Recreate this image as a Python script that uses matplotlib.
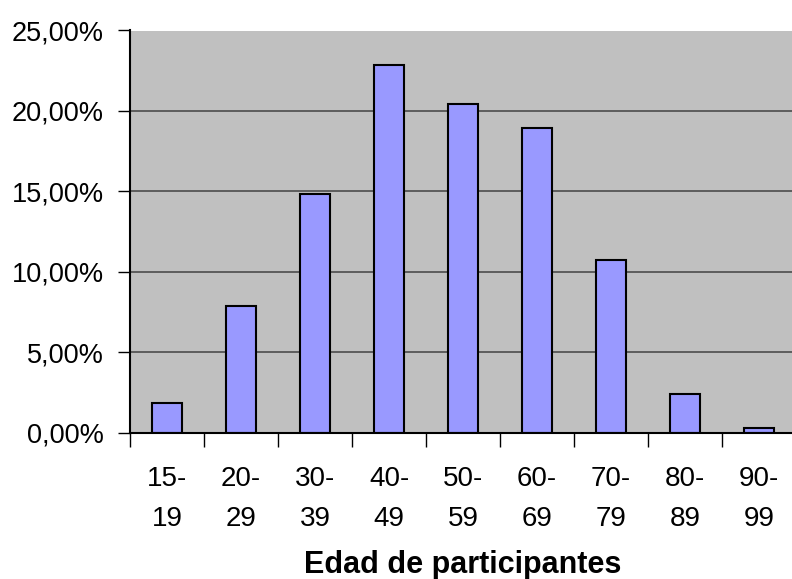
import matplotlib
matplotlib.use('Agg')
import matplotlib.pyplot as plt
from matplotlib.ticker import FuncFormatter, FixedLocator

plt.rcParams['font.family'] = ['Liberation Sans', 'DejaVu Sans']

edades = ['15-\n19', '20-\n29', '30-\n39', '40-\n49', '50-\n59',
          '60-\n69', '70-\n79', '80-\n89', '90-\n99']
porcentajes = [1.84, 7.85, 14.85, 22.86, 20.41, 18.96, 10.75, 2.42, 0.27]
y_ticks = [0, 5, 10, 15, 20, 25]

fig = plt.figure(figsize=(7.92, 5.79), dpi=100)
ax = fig.add_axes([130 / 792, 146.5 / 579, 666 / 792, 402 / 579])
ax.set_facecolor('#C0C0C0')

centros = [i + 0.5 for i in range(len(edades))]
ax.bar(centros, porcentajes, width=0.4, color='#9999FF',
       edgecolor='black', linewidth=1.5, zorder=3)

ax.set_xlim(0, len(edades))
ax.set_ylim(0, 25)

# y axis
ax.set_yticks(y_ticks)
ax.yaxis.set_major_formatter(FuncFormatter(lambda v, p: f'{v:.2f}'.replace('.', ',') + '%'))
ax.yaxis.grid(True, color='#555555', linewidth=1.3, zorder=1)
ax.tick_params(axis='y', direction='out', length=9, width=1, pad=10,
               labelsize=19.5, color='black')

# x axis: ticks at boundaries, labels at centers
ax.xaxis.set_major_locator(FixedLocator(range(len(edades) + 1)))
ax.xaxis.set_major_formatter(FuncFormatter(lambda v, p: ''))
ax.xaxis.set_minor_locator(FixedLocator(centros))
ax.set_xticklabels(edades, minor=True, linespacing=1.7)
ax.tick_params(axis='x', which='major', direction='out', length=10, width=1)
ax.tick_params(axis='x', which='minor', length=0, pad=24, labelsize=20)

for s in ['top', 'right']:
    ax.spines[s].set_visible(False)
ax.spines['left'].set_linewidth(1.5)
ax.spines['bottom'].set_linewidth(1.5)
ax.spines['left'].set_zorder(4)
ax.spines['bottom'].set_zorder(4)

# axis title centred on the plot area
fig.text(463 / 792, 6 / 579, 'Edad de participantes', fontsize=22,
         fontweight='bold', ha='center', va='baseline')

fig.savefig('out.png', dpi=100)
